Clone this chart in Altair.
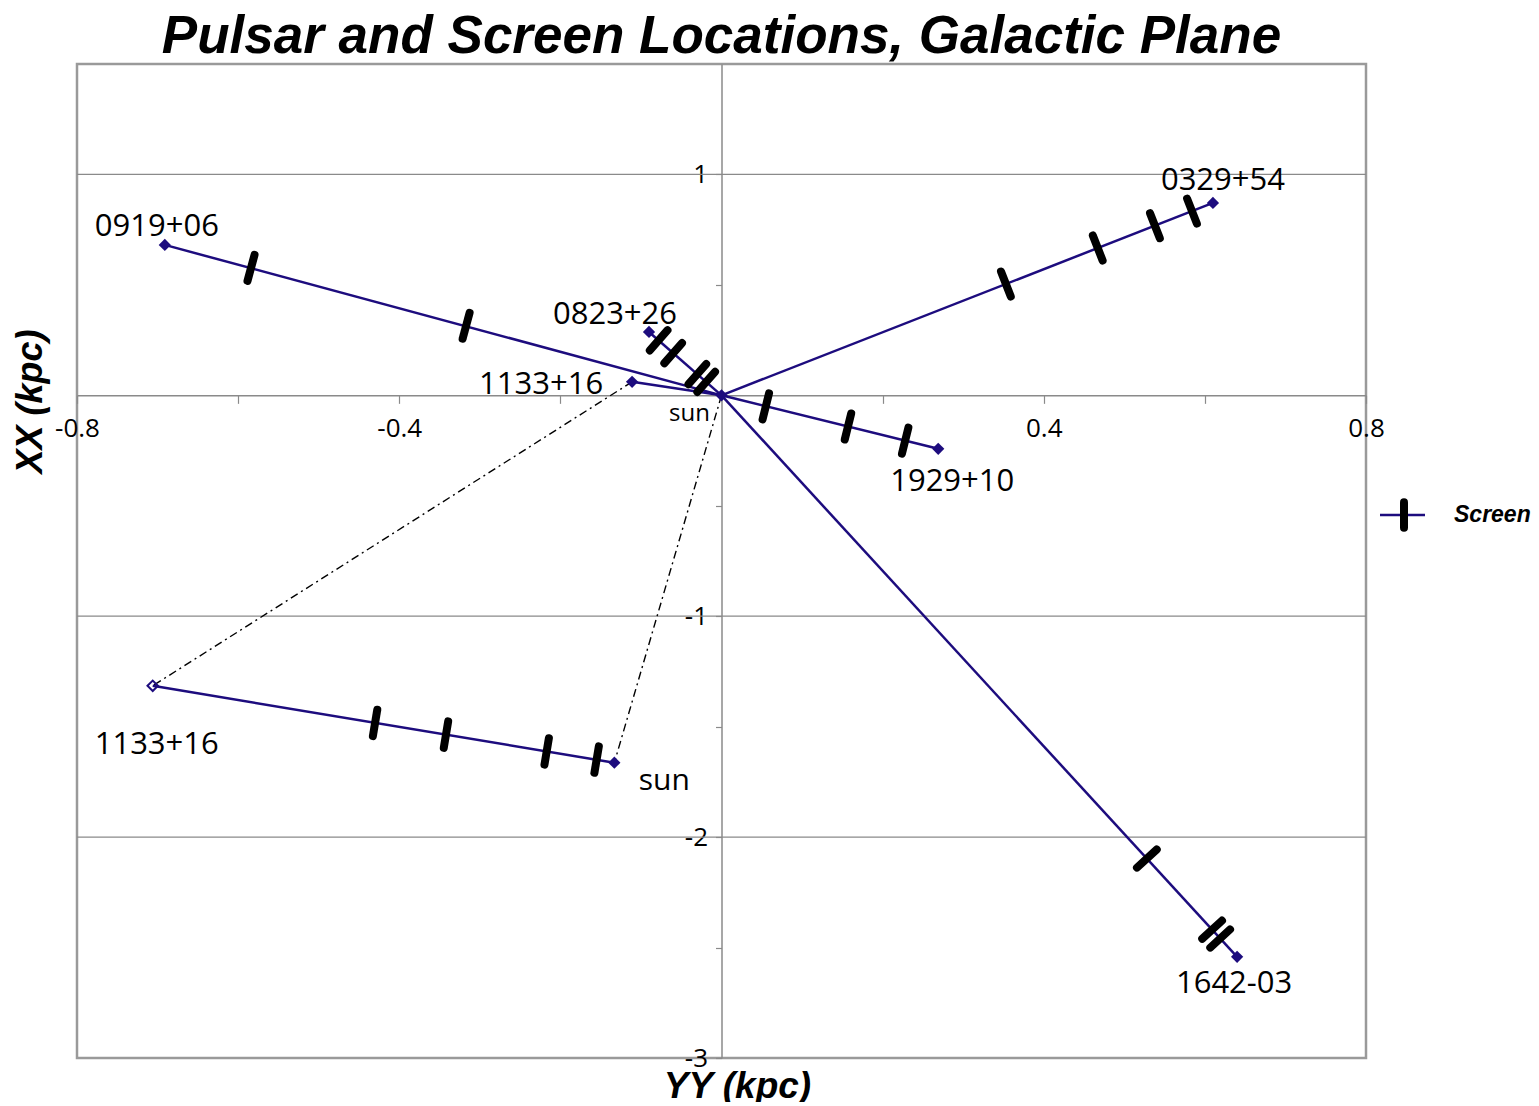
import math
import altair as alt
import pandas as pd

# ---------------- data (kpc) ----------------
SUN_X, SUN_Y = 0.0, 0.0

PULSAR_NAMES = ["0919+06", "0823+26", "1133+16", "0329+54", "1929+10", "1642-03"]
PULSAR_X = [-0.691, -0.090, -0.111, 0.610, 0.269, 0.640]
PULSAR_Y = [0.681, 0.287, 0.061, 0.871, -0.242, -2.542]

SCREEN_OF = ["0919+06", "0919+06",
             "0823+26", "0823+26", "0823+26", "0823+26",
             "0329+54", "0329+54", "0329+54", "0329+54",
             "1929+10", "1929+10", "1929+10",
             "1642-03", "1642-03", "1642-03"]
SCREEN_X = [-0.584, -0.317,
            -0.078, -0.060, -0.030, -0.019,
            0.353, 0.467, 0.538, 0.584,
            0.055, 0.157, 0.228,
            0.528, 0.609, 0.619]
SCREEN_Y = [0.577, 0.315,
            0.249, 0.191, 0.096, 0.061,
            0.504, 0.667, 0.768, 0.834,
            -0.050, -0.141, -0.205,
            -2.097, -2.419, -2.459]

# enlarged copy of the 1133+16 line of sight
INSET_PULSAR_X, INSET_PULSAR_Y = -0.706, -1.315
INSET_SUN_X, INSET_SUN_Y = -0.133, -1.663
INSET_SCREEN_X = [-0.430, -0.342, -0.217, -0.155]
INSET_SCREEN_Y = [-1.483, -1.536, -1.612, -1.649]

GRID_Y = [1, -1, -2]
X_TICKS = [-0.8, -0.6, -0.4, -0.2, 0.2, 0.4, 0.6, 0.8]
X_LABELED = [-0.8, -0.4, 0.4, 0.8]
Y_TICKS = [-3, -2.5, -2, -1.5, -1, -0.5, 0.5, 1]
Y_LABELED = [1, -1, -2, -3]

LEGEND_LABEL = ["Screen"]

# ---------------- layout / style ----------------
W, H = 1289, 994
XDOM = [-0.8, 0.8]
YDOM = [-3.0, 1.5]
SX = W / (XDOM[1] - XDOM[0])
SY = H / (YDOM[1] - YDOM[0])
NAVY = "#1d0c7e"
GRAY = "#8a8a8a"
TICK_FONT = "Open Sans"
LABEL_FONT = "Open Sans"
TITLE_FONT = "Liberation Sans"

# pixel offsets (dx, dy, font size) of the name labels, in the order built below
LABEL_STYLE = [(-8, -18, 31), (-34, -17, 31), (-91, 3, 31), (10, -22, 31),
               (14, 33, 31), (-3, 27, 31), (-32, 19, 24), (4, 59, 31), (50, 18, 30)]


def bar_angle(dx, dy):
    """rotation (deg) of a vertical bar so that it is perpendicular to direction (dx, dy) on screen"""
    return math.degrees(math.atan2(-dy * SY, dx * SX)) % 180


# ---------------- tables ----------------
line_rows = []
for n, px, py in zip(PULSAR_NAMES, PULSAR_X, PULSAR_Y):
    line_rows.append(dict(series=n, o=0, x=SUN_X, y=SUN_Y))
    line_rows.append(dict(series=n, o=1, x=px, y=py))
line_rows.append(dict(series="inset", o=0, x=INSET_PULSAR_X, y=INSET_PULSAR_Y))
line_rows.append(dict(series="inset", o=1, x=INSET_SUN_X, y=INSET_SUN_Y))
lines_df = pd.DataFrame(line_rows)

i1133 = PULSAR_NAMES.index("1133+16")
dash_df = pd.DataFrame([
    dict(series="a", o=0, x=PULSAR_X[i1133], y=PULSAR_Y[i1133]),
    dict(series="a", o=1, x=INSET_PULSAR_X, y=INSET_PULSAR_Y),
    dict(series="b", o=0, x=SUN_X, y=SUN_Y),
    dict(series="b", o=1, x=INSET_SUN_X, y=INSET_SUN_Y),
])

filled_df = pd.DataFrame(
    dict(x=[SUN_X] + PULSAR_X + [INSET_SUN_X], y=[SUN_Y] + PULSAR_Y + [INSET_SUN_Y]))
hollow_df = pd.DataFrame(dict(x=[INSET_PULSAR_X], y=[INSET_PULSAR_Y]))

scr_rows = []
for n, sx_, sy_ in zip(SCREEN_OF, SCREEN_X, SCREEN_Y):
    k = PULSAR_NAMES.index(n)
    scr_rows.append(dict(x=sx_, y=sy_, ang=bar_angle(PULSAR_X[k] - SUN_X, PULSAR_Y[k] - SUN_Y)))
for sx_, sy_ in zip(INSET_SCREEN_X, INSET_SCREEN_Y):
    scr_rows.append(dict(x=sx_, y=sy_, ang=bar_angle(INSET_SUN_X - INSET_PULSAR_X,
                                                     INSET_SUN_Y - INSET_PULSAR_Y)))
screens_df = pd.DataFrame(scr_rows)

label_anchor = [(PULSAR_NAMES[i], PULSAR_X[i], PULSAR_Y[i]) for i in range(len(PULSAR_NAMES))]
label_anchor += [("sun", SUN_X, SUN_Y), ("1133+16", INSET_PULSAR_X, INSET_PULSAR_Y),
                 ("sun", INSET_SUN_X, INSET_SUN_Y)]

# ---------------- scales & axes ----------------
xs = alt.Scale(domain=XDOM, nice=False, zero=False)
ys = alt.Scale(domain=YDOM, nice=False, zero=False)

x_axis_offset = -H * (0 - YDOM[0]) / (YDOM[1] - YDOM[0])
y_axis_offset = -W * (0 - XDOM[0]) / (XDOM[1] - XDOM[0])

x_axis = alt.Axis(
    values=X_TICKS, grid=False, offset=x_axis_offset,
    labelExpr="indexof(%s, datum.value) >= 0 ? '' + datum.value : ''" % str(X_LABELED),
    labelFont=TICK_FONT, labelFontSize=26, labelColor="black", labelPadding=12,
    labelOverlap=False, labelFlush=False,
    domainColor=GRAY, domainWidth=1.5, tickColor=GRAY, tickWidth=1.2, tickSize=8,
    title="YY (kpc)", titleFont=TITLE_FONT, titleFontSize=37, titleFontStyle="italic",
    titleFontWeight="bold", titleColor="black", titleAlign="center",
    titleBaseline="alphabetic", titleX=660, titleY=1033 - (H + x_axis_offset),
)
y_axis = alt.Axis(
    values=Y_TICKS, grid=False, offset=y_axis_offset,
    labelExpr="indexof(%s, datum.value) >= 0 ? '' + datum.value : ''" % str(Y_LABELED),
    labelFont=TICK_FONT, labelFontSize=26, labelColor="black", labelPadding=8,
    labelOverlap=False, labelFlush=False, labelBaseline="middle",
    domainColor=GRAY, domainWidth=1.5, tickColor=GRAY, tickWidth=1.2, tickSize=6,
    title="XX (kpc)", titleFont=TITLE_FONT, titleFontSize=36, titleFontStyle="italic",
    titleFontWeight="bold", titleColor="black", titleAlign="center",
    titleBaseline="alphabetic", titleX=-36 + y_axis_offset, titleY=337, titleAngle=270,
)


def X(f="x"):
    return alt.X(f"{f}:Q", scale=xs, axis=x_axis)


def Y(f="y"):
    return alt.Y(f"{f}:Q", scale=ys, axis=y_axis)


# ---------------- layers ----------------
grid = alt.Chart(pd.DataFrame(dict(y=GRID_Y))).mark_rule(
    color=GRAY, strokeWidth=1.2).encode(y=Y())

dashes = alt.Chart(dash_df).mark_line(
    color="black", strokeWidth=1.4, strokeDash=[8, 4, 2, 4]).encode(
    x=X(), y=Y(), detail="series:N", order="o:Q")

lines = alt.Chart(lines_df).mark_line(color=NAVY, strokeWidth=2.5).encode(
    x=X(), y=Y(), detail="series:N", order="o:Q")

filled = alt.Chart(filled_df).mark_point(
    shape="diamond", filled=True, color=NAVY, size=150, opacity=1).encode(x=X(), y=Y())

hollow = alt.Chart(hollow_df).mark_point(
    shape="diamond", filled=False, color=NAVY, size=110, strokeWidth=2, opacity=1).encode(x=X(), y=Y())

screens = alt.Chart(screens_df).mark_point(
    shape="M0,-1L0,1", filled=False, stroke="black", strokeWidth=8, strokeCap="round",
    size=720, opacity=1).encode(x=X(), y=Y(), angle=alt.Angle("ang:Q", scale=None))

label_layers = []
for (txt, lx, ly), (dx, dy, fs) in zip(label_anchor, LABEL_STYLE):
    label_layers.append(
        alt.Chart(pd.DataFrame(dict(t=[txt], x=[lx], y=[ly]))).mark_text(
            font=LABEL_FONT, fontSize=fs, color="black", align="center",
            baseline="middle", dx=dx, dy=dy).encode(x=X(), y=Y(), text="t:N"))

# legend (drawn to the right of the plot)
leg_df = pd.DataFrame(dict(t=LEGEND_LABEL))
leg_line = alt.Chart(leg_df).mark_rule(color=NAVY, strokeWidth=2.5).encode(
    x=alt.value(W + 14), x2=alt.value(W + 59), y=alt.value(451))
leg_bar = alt.Chart(leg_df).mark_point(
    shape="M0,-1L0,1", filled=False, stroke="black", strokeWidth=8, strokeCap="round",
    size=650, opacity=1).encode(x=alt.value(W + 38), y=alt.value(451))
leg_text = alt.Chart(leg_df).mark_text(
    font=TITLE_FONT, fontSize=23, fontStyle="italic", fontWeight="bold", color="black",
    align="left", baseline="middle").encode(x=alt.value(W + 88), y=alt.value(451), text="t:N")

chart = alt.layer(
    grid, dashes, lines, filled, hollow, screens, *label_layers, leg_line, leg_bar, leg_text
).properties(
    width=W, height=H,
    autosize=alt.AutoSizeParams(type="none"),
    padding={"left": 69, "top": 56, "right": 165, "bottom": 44},
    title=alt.TitleParams(
        "Pulsar and Screen Locations, Galactic Plane", font=TITLE_FONT, fontSize=53,
        fontStyle="italic", fontWeight="bold", color="black", anchor="middle",
        frame="group", baseline="alphabetic", offset=-42),
    background="white",
).configure_view(stroke="#9a9a9a", strokeWidth=2.5)

chart.save("out.html", embed_options={"renderer": "svg", "actions": False})
